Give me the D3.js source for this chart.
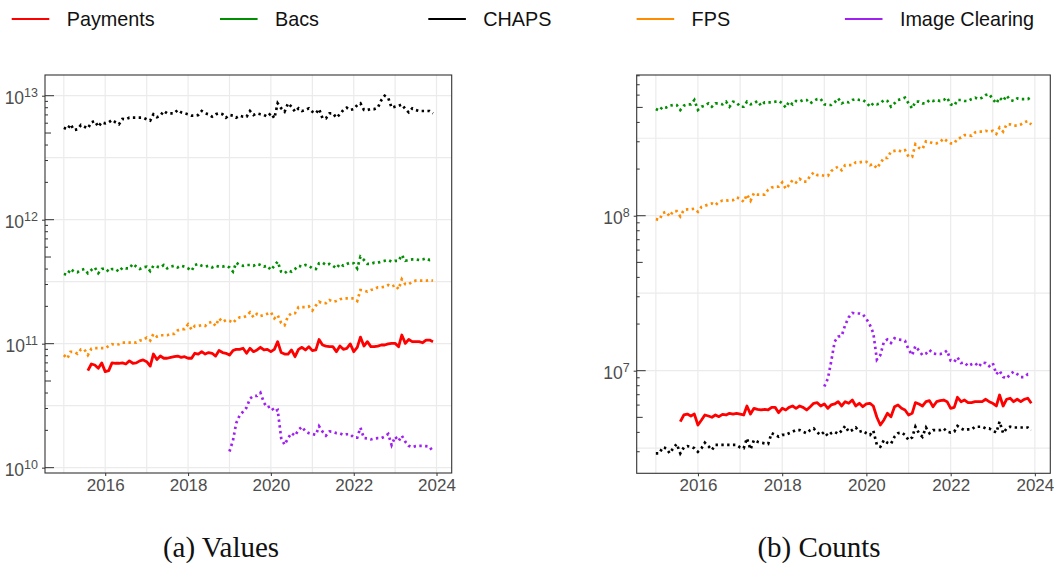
<!DOCTYPE html>
<html>
<head>
<meta charset="utf-8">
<script src="https://cdn.jsdelivr.net/npm/d3@7"></script>
<style>
    body { margin: 0; background: #fff; }
    text { font-family: "Liberation Sans", Arial, sans-serif; }
</style>
</head>
<body>
<div id="chart"></div>
<script>
/*
    UK payment systems: monthly values (GBP) and counts, log scale
 */

// series, in the legend order
var series_names = ['Payments', 'Bacs', 'CHAPS', 'FPS', 'Image Clearing'];
var series_colors = ['#ff0000', '#008f00', '#000000', '#ff8c00', '#a020f0'];
var series_start = ['2015-08', '2015-01', '2015-01', '2015-01', '2019-01'];

// values, GBP bn
var values_payments = [60.6,68.6,67.3,63.4,70,
    59.5,60.6,70,69.5,69.5,70,68.6,72.7,69.5,70,72.7,73.9,
    71.6,66,82.5,74.5,79.5,76.3,76.3,77.5,78.5,79.5,77.5,78.5,
    76.3,76.3,83.7,82.5,86.2,82.5,84.8,83.7,79.5,88,84.8,83.7,
    81,88,90,90,91.8,83.7,91.8,86.2,89,93.5,89,90,
    86.2,90,103.8,84.8,82.5,82.5,89,78.5,90,93.5,89,94.6,
    88,89,108,97.6,95.7,94.6,94.6,86.2,95.7,90,91.8,99.5,
    86.2,93.5,113,95.7,103.8,94.6,94.6,95.7,97.6,97.6,99.5,100.6,
    100.6,94.6,117.5,100.6,108,103.8,103.8,103.8,101.8,107,107,103.8];
var values_bacs = [365,360,400,381,377,393,400,370,393,412,370,400,
    405,381,400,400,381,410,405,405,440,418,400,412,
    418,385,425,418,412,431,405,418,425,412,425,418,
    405,388,431,440,425,418,425,412,425,418,418,425,
    412,381,450,431,425,431,431,425,440,431,418,425,
    393,425,459,381,370,390,381,400,425,418,431,425,
    405,400,445,450,431,440,425,405,440,425,440,450,
    445,405,503,473,440,440,450,450,459,466,473,459,
    466,466,519,466,473,478,478,473,478,488,473,478];
var values_chaps = [5520,5355,5880,5290,5355,5800,5625,5455,6100,6250,5625,6100,
    5985,6100,6370,6100,5880,6500,6450,6650,6650,6650,6650,6650,
    6450,6300,7080,6700,6900,7530,7210,7210,7210,7670,7340,7210,
    7080,6900,6900,6990,7530,7210,7080,6770,7080,7210,7080,6650,
    6990,6900,6650,6900,6770,6770,7530,6990,7210,7080,6990,6770,
    7210,6575,8680,7910,7430,8680,8160,7430,7910,7530,7670,7910,
    7430,7210,7800,6575,6575,7210,7210,6650,7080,7670,8000,7670,
    7800,8414,8680,7670,7670,7800,7800,8000,9200,10000,9600,8000,
    8160,8300,8500,7800,7340,7910,7670,7530,7530,7530,7530,7210];
var values_fps = [81,76,86,86,83,90,90,81,91,92,92,92,
    92,96,99,98,99,102,102,102,103,102,106,107,
    112,106,120,114,117,117,117,120,120,128,131,131,
    143,130,139,139,141,139,147,150,139,160,150,155,
    153,147,157,163,163,167,179,163,174,167,170,174,
    179,160,170,147,141,167,176,176,197,197,197,200,
    185,203,218,212,212,225,218,221,228,232,232,232,
    232,221,271,268,263,271,275,285,285,288,297,288,
    297,275,331,302,302,316,322,322,322,322,326,322];
var values_image = [13.5,16.6,22.8,26.4,28.3,30.6,36.1,37.9,37.9,40.2,33.4,30.6,
    31.3,28.3,29.2,17.3,15.3,17.3,19.0,18.1,20.2,21.4,19.6,19.0,
    18.7,18.4,21.6,19.5,18.1,19.6,19.5,19.0,18.9,18.4,18.6,18.6,
    17.5,17.5,21.0,17.3,17.2,16.9,17.2,17.3,17.3,17.8,18.7,15.2,
    17.8,16.4,18.1,16.2,15.0,14.6,14.9,15.0,15.0,14.9,14.8,13.4];

// counts, millions
var counts_payments = [4.69,5.18,5.25,5.10,5.25,
    4.46,4.81,5.18,5.10,5.01,5.18,5.05,5.23,5.18,5.31,5.25,5.31,
    5.25,5.18,5.92,5.25,5.72,5.63,5.58,5.63,5.58,5.80,5.80,5.36,
    5.72,5.58,5.80,5.92,5.72,5.92,5.80,5.58,5.86,6.16,6.22,5.92,
    6.10,5.72,6.01,6.10,6.31,5.92,6.31,6.16,6.47,5.92,6.16,5.86,
    6.10,6.16,5.92,5.01,4.46,4.81,5.31,5.05,5.86,6.01,5.72,5.58,
    5.18,5.31,6.22,6.10,5.92,6.31,6.41,5.86,6.31,6.41,6.47,6.31,
    5.72,5.80,6.74,6.31,6.47,6.22,6.22,6.31,6.31,6.31,6.54,6.31,
    6.16,5.92,6.97,5.92,6.54,6.64,6.31,6.54,6.31,6.54,6.64,6.16];
var counts_bacs = [488,476,505,499,513,518,518,481,513,523,523,558,
    481,505,513,531,505,531,531,523,544,505,544,539,
    505,505,544,523,531,550,513,539,539,539,544,550,
    531,499,544,523,550,544,558,558,531,550,566,566,
    523,518,518,539,572,531,544,539,558,566,558,558,
    539,505,531,523,531,558,550,505,531,558,566,578,
    531,493,544,544,531,531,558,550,558,550,558,578,
    523,513,558,558,550,550,566,578,566,578,601,609,
    566,531,578,550,596,558,550,572,566,566,566,586];
var counts_chaps = [2.93,2.93,3.20,3.16,2.93,3.16,3.37,2.93,3.20,3.26,3.23,3.16,
    3.00,3.16,3.43,3.26,3.08,3.32,3.32,3.32,3.32,3.32,3.32,3.32,
    3.20,3.16,3.66,3.11,3.57,3.48,3.43,3.40,3.37,3.95,3.85,3.75,
    3.85,3.85,3.95,4.04,4.14,4.14,4.04,3.95,4.14,4.24,3.99,3.85,
    4.04,3.79,3.95,4.04,3.91,4.10,4.40,4.04,4.14,4.30,4.04,4.10,
    3.95,3.85,4.10,3.32,3.23,3.57,3.43,3.37,3.75,3.95,3.99,3.85,
    3.57,3.71,4.35,3.95,3.75,4.30,3.95,4.14,4.14,4.14,4.24,4.04,
    3.99,4.04,4.40,4.24,4.14,4.18,4.18,4.35,4.35,4.35,4.24,4.24,
    4.10,3.99,4.69,3.95,4.24,4.35,4.30,4.30,4.30,4.30,4.30,4.14];
var counts_fps = [95,94,104,106,99,107,107,99,109,110,110,111,
    106,114,116,118,120,117,123,125,125,126,126,131,
    129,123,137,125,140,137,137,137,147,152,154,154,
    164,149,158,170,164,173,166,166,181,190,183,183,
    181,181,194,202,207,197,212,212,212,221,221,223,
    223,212,215,202,218,236,236,259,262,265,259,265,
    240,240,289,274,269,302,299,293,293,299,315,303,
    293,293,315,319,331,331,328,345,349,349,353,349,
    353,337,370,349,388,388,381,381,388,400,408,388];
var counts_image = [7.9,8.9,11.4,15.4,16.6,16.8,19.7,22.1,23.6,23.4,23.4,23.1,
    21.6,19.7,17.5,11.8,12.6,15.4,15.9,15.1,16.2,15.9,15.8,15.6,
    13.7,12.6,14.4,13.5,12.6,12.9,13.6,12.9,12.8,12.8,13.0,13.5,
    11.6,11.4,12.2,11.2,11.3,10.7,11.0,11.2,10.6,11.3,11.2,10.7,
    11.2,9.5,10.0,9.1,8.9,9.5,9.85,9.5,9.1,9.1,9.5,9.5];

var year_ticks = [2016, 2018, 2020, 2022, 2024];
var captions = ['(a) Values', '(b) Counts'];

var svg_size = {
    'width': 1054,
    'height': 563
};

var panels = [
    {
        'caption': captions[0],
        'unit': 1e9,
        'data': [values_payments, values_bacs, values_chaps, values_fps, values_image],
        'domain': [Math.pow(10, 9.957), Math.pow(10, 13.167)],
        'decades': [10, 11, 12, 13],
        'box': {'x0': 45, 'x1': 451.7, 'y0': 75, 'y1': 473},
        'caption_x': 221
    },
    {
        'caption': captions[1],
        'unit': 1e6,
        'data': [counts_payments, counts_bacs, counts_chaps, counts_fps, counts_image],
        'domain': [Math.pow(10, 6.338), Math.pow(10, 8.908)],
        'decades': [6, 7, 8],
        'box': {'x0': 636.7, 'x1': 1050.3, 'y0': 75, 'y1': 473.3},
        'caption_x': 819
    }
];

var x_start = new Date(Date.UTC(2014, 6, 19));
var x_end = new Date(Date.UTC(2024, 4, 14));

var svg = d3.select("#chart")
    .append("svg")
    .attr('width', svg_size.width)
    .attr('height', svg_size.height);

function month_of(start, i){
    var parts = start.split('-');
    return new Date(Date.UTC(+parts[0], +parts[1] - 1 + i, 1));
}

function draw_panel(p){
    var b = p.box;
    var x_scale = d3.scaleUtc()
        .domain([x_start, x_end])
        .range([b.x0, b.x1]);
    var y_scale = d3.scaleLog()
        .domain(p.domain)
        .range([b.y1, b.y0]);

    var g = svg.append('g');

    // grid
    var grid_y = [];
    p.decades.forEach(function(k){
        grid_y.push(Math.pow(10, k));
        grid_y.push(Math.pow(10, k + 0.5));
    });
    grid_y = grid_y.filter(function(v){ return v >= p.domain[0] && v <= p.domain[1]; });
    var grid_x = d3.range(2015, 2025).map(function(y){ return new Date(Date.UTC(y, 0, 1)); });

    g.selectAll('.grid-h')
        .data(grid_y)
        .enter()
        .append('line')
        .attr('x1', b.x0).attr('x2', b.x1)
        .attr('y1', function(d){ return y_scale(d); })
        .attr('y2', function(d){ return y_scale(d); })
        .style('stroke', '#ebebeb')
        .style('stroke-width', 1.2);

    g.selectAll('.grid-v')
        .data(grid_x)
        .enter()
        .append('line')
        .attr('y1', b.y0).attr('y2', b.y1)
        .attr('x1', function(d){ return x_scale(d); })
        .attr('x2', function(d){ return x_scale(d); })
        .style('stroke', '#ebebeb')
        .style('stroke-width', 1.2);

    // series
    var line = d3.line()
        .x(function(d){ return x_scale(d.date); })
        .y(function(d){ return y_scale(d.value); });

    p.data.forEach(function(arr, s){
        var pts = arr.map(function(v, i){
            return {'date': month_of(series_start[s], i), 'value': v * p.unit};
        });
        var path = g.append('path')
            .datum(pts)
            .attr('d', line)
            .style('fill', 'none')
            .style('stroke', series_colors[s]);
        if (s === 0) {
            path.style('stroke-width', 2.8)
                .style('stroke-linejoin', 'round');
        }
        else {
            path.style('stroke-width', 2.7)
                .style('stroke-dasharray', '2.4,3.4');
        }
    });

    // log ticks inside the left edge
    var log_ticks = [];
    p.decades.forEach(function(k){
        for (var m = 1; m <= 9; m++) {
            log_ticks.push({'v': m * Math.pow(10, k), 'len': m === 1 ? 9 : (m === 5 ? 6 : 3)});
        }
    });
    log_ticks = log_ticks.filter(function(d){ return d.v >= p.domain[0] && d.v <= p.domain[1]; });
    g.selectAll('.log-tick')
        .data(log_ticks)
        .enter()
        .append('line')
        .attr('x1', b.x0).attr('x2', function(d){ return b.x0 + d.len; })
        .attr('y1', function(d){ return y_scale(d.v); })
        .attr('y2', function(d){ return y_scale(d.v); })
        .style('stroke', '#333')
        .style('stroke-width', 1);

    // frame
    g.append('rect')
        .attr('x', b.x0).attr('y', b.y0)
        .attr('width', b.x1 - b.x0).attr('height', b.y1 - b.y0)
        .style('fill', 'none')
        .style('stroke', '#333')
        .style('stroke-width', 1.1);

    // axes
    var y_axis = d3.axisLeft(y_scale)
        .tickValues(p.decades.map(function(k){ return Math.pow(10, k); })
            .filter(function(v){ return v >= p.domain[0] && v <= p.domain[1]; }))
        .tickSizeInner(3)
        .tickSizeOuter(0)
        .tickPadding(4);

    var y_axis_group = g.append('g')
        .attr('transform', 'translate(' + b.x0 + ',0)')
        .call(y_axis);
    y_axis_group.select('.domain').remove();
    y_axis_group.selectAll('line').style('stroke', '#333');
    y_axis_group.selectAll('text')
        .style('fill', '#4d4d4d')
        .style('font-size', '17.5px')
        .style('font-family', '"Liberation Sans", Arial, sans-serif')
        .attr('dy', '0.45em')
        .each(function(d){
            var t = d3.select(this);
            t.text(null);
            t.append('tspan').text('10');
            t.append('tspan')
                .attr('dy', '-0.55em')
                .style('font-size', '12.5px')
                .text(Math.round(Math.log10(d)));
        });

    var x_axis = d3.axisBottom(x_scale)
        .tickValues(year_ticks.map(function(y){ return new Date(Date.UTC(y, 0, 1)); }))
        .tickFormat(d3.utcFormat('%Y'))
        .tickSizeInner(3)
        .tickSizeOuter(0)
        .tickPadding(3);

    var x_axis_group = g.append('g')
        .attr('transform', 'translate(0,' + b.y1 + ')')
        .call(x_axis);
    x_axis_group.select('.domain').remove();
    x_axis_group.selectAll('line').style('stroke', '#333');
    x_axis_group.selectAll('text')
        .style('fill', '#4d4d4d')
        .style('font-size', '17px')
        .style('font-family', '"Liberation Sans", Arial, sans-serif');

    // caption
    svg.append('text')
        .attr('x', p.caption_x)
        .attr('y', 557)
        .attr('text-anchor', 'middle')
        .style('font-family', '"Liberation Serif", "Times New Roman", serif')
        .style('font-size', '29px')
        .style('fill', '#111')
        .text(p.caption);
}

panels.forEach(draw_panel);

// legend
var legend = svg.append('g');
var legend_enter = legend.selectAll('.legend-item')
    .data(series_names)
    .enter()
    .append('g')
    .classed('legend-item', true)
    .attr('transform', function(d, i){
        return 'translate(' + (11.7 + 208.3 * i) + ',19)';
    });

legend_enter.append('line')
    .attr('x1', 0).attr('x2', 37.6)
    .attr('y1', 0).attr('y2', 0)
    .style('stroke-width', 2)
    .style('stroke', function(d, i){ return series_colors[i]; });

legend_enter.append('text')
    .attr('x', 55)
    .attr('y', 0)
    .attr('dominant-baseline', 'central')
    .style('font-size', '19.8px')
    .style('fill', '#111')
    .text(function(d){ return d; });
</script>
</body>
</html>
